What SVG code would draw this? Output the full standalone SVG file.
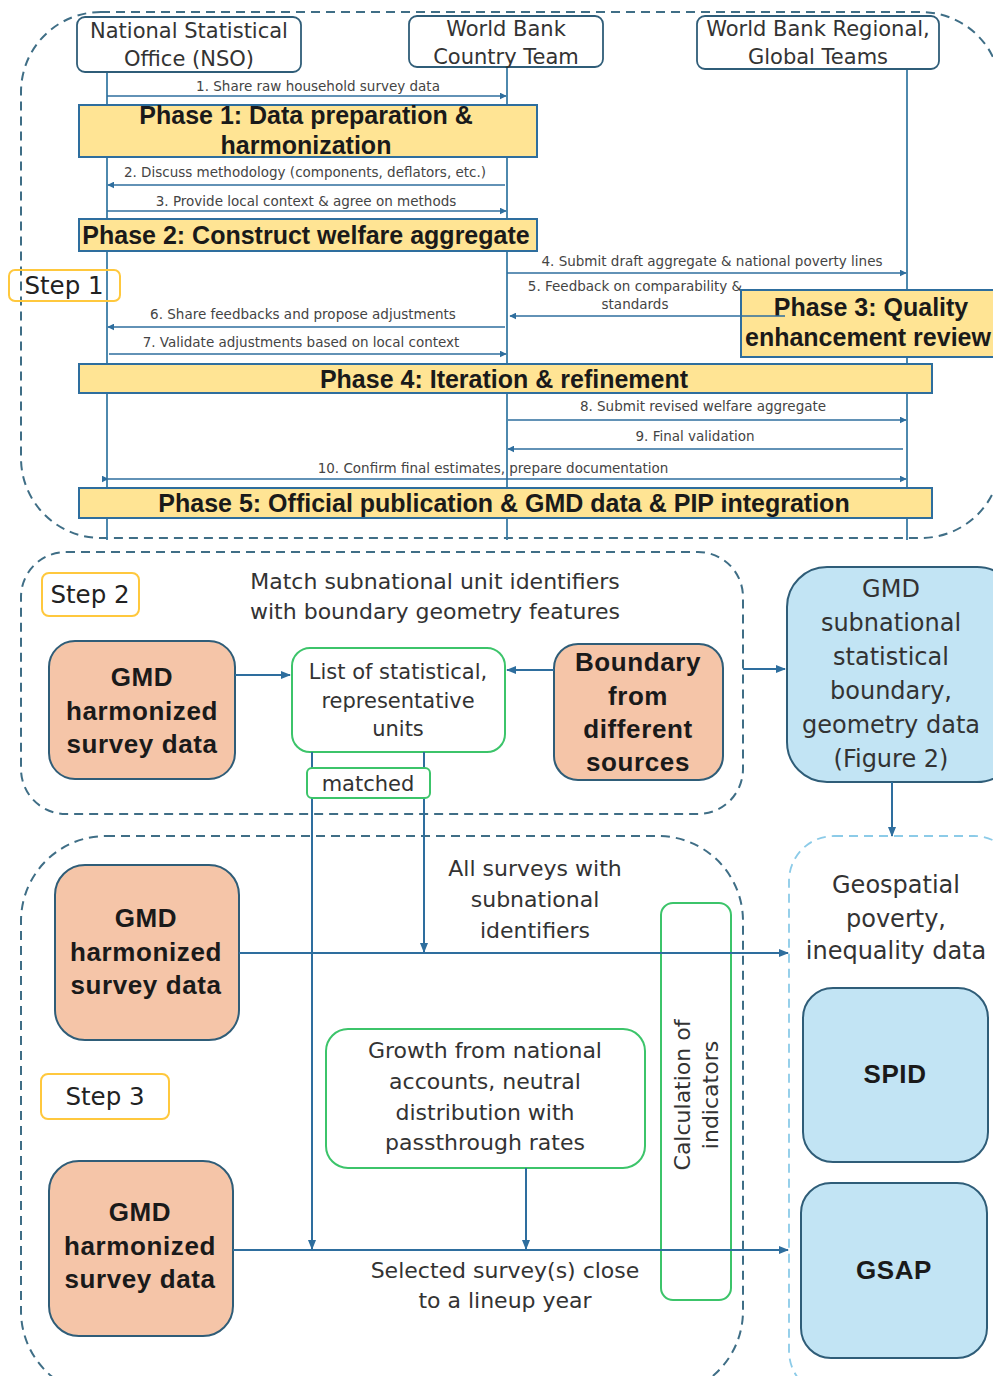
<svg xmlns="http://www.w3.org/2000/svg" width="993" height="1376" viewBox="0 0 993 1376">
<style>
.dash{fill:none;stroke:#3F6E86;stroke-width:2;stroke-dasharray:9 6}
.dashl{fill:none;stroke:#8CCBE8;stroke-width:1.8;stroke-dasharray:9 6}
.actor{fill:#fff;stroke:#2F5D78;stroke-width:1.8}
.phase{fill:#FFE494;stroke:#2E6E9E;stroke-width:2}
.life{stroke:#3A7CA5;stroke-width:1.8;fill:none}
.msg{stroke:#2E6E9E;stroke-width:1.5;fill:none}
.con{stroke:#2E6E9E;stroke-width:2;fill:none}
.step{fill:#fff;stroke:#FFC83D;stroke-width:2}
.salmon{fill:#F5C5A8;stroke:#2F5D78;stroke-width:2}
.blue{fill:#C2E4F4;stroke:#2F5D78;stroke-width:2}
.green{fill:#fff;stroke:#3CC46A;stroke-width:2}
.greenn{fill:none;stroke:#3CC46A;stroke-width:2}
text{font-family:"DejaVu Sans","Liberation Sans",Arial,sans-serif;fill:#333;text-anchor:middle}
.at{font-size:21px}
.pt{font-family:"Liberation Sans",Arial,sans-serif;font-size:25px;font-weight:bold;fill:#1a1a1a}
.mt{font-size:13.5px;fill:#444}
.st{font-size:24.5px;fill:#222}
.bt{font-family:"Liberation Sans",Arial,sans-serif;font-size:26px;font-weight:bold;fill:#1a1a1a;letter-spacing:0.6px}
.nt{font-size:22px;fill:#333}
.ntb{font-size:24px;fill:#333}
.lt{font-size:21px;fill:#333}
</style>
<defs>
<marker id="ah" viewBox="0 0 10 10" refX="9" refY="5" markerWidth="7" markerHeight="7" markerUnits="userSpaceOnUse" orient="auto"><path d="M0,0L10,5L0,10z" fill="#2E6E9E"/></marker>
<marker id="ahb" viewBox="0 0 10 10" refX="9" refY="5" markerWidth="10" markerHeight="10" markerUnits="userSpaceOnUse" orient="auto"><path d="M0,1L10,5L0,9z" fill="#2E6E9E"/></marker>
</defs>

<!-- containers -->
<g id="step1-container"><rect class="dash" x="21" y="12" width="980" height="526" rx="80"/></g>
<g id="step2-container"><rect class="dash" x="21" y="552" width="722" height="262" rx="45"/></g>
<g id="step3-container"><rect class="dash" x="21" y="836" width="722" height="560" rx="85"/></g>
<g id="output-container"><rect class="dashl" x="789" y="836" width="230" height="560" rx="45"/></g>

<!-- lifelines -->
<g id="lifelines">
<line class="life" x1="107" y1="72" x2="107" y2="540"/>
<line class="life" x1="507" y1="67" x2="507" y2="540"/>
<line class="life" x1="907" y1="69" x2="907" y2="540"/>
</g>

<!-- actors -->
<g id="actor-nso"><rect class="actor" x="77" y="17" width="224" height="55" rx="8"/><text class="at" x="189" y="38">National Statistical</text><text class="at" x="189" y="66">Office (NSO)</text></g>
<g id="actor-country"><rect class="actor" x="409" y="16" width="194" height="51" rx="8"/><text class="at" x="506" y="36">World Bank</text><text class="at" x="506" y="64">Country Team</text></g>
<g id="actor-global"><rect class="actor" x="697" y="16" width="242" height="53" rx="8"/><text class="at" x="818" y="36">World Bank Regional,</text><text class="at" x="818" y="64">Global Teams</text></g>

<!-- messages -->
<g id="messages">
<text class="mt" x="318" y="91">1. Share raw household survey data</text>
<line class="msg" x1="107" y1="96" x2="506" y2="96" marker-end="url(#ah)"/>
<text class="mt" x="305" y="177">2. Discuss methodology (components, deflators, etc.)</text>
<line class="msg" x1="505" y1="185" x2="108" y2="185" marker-end="url(#ah)"/>
<text class="mt" x="306" y="206">3. Provide local context &amp; agree on methods</text>
<line class="msg" x1="107" y1="211" x2="506" y2="211" marker-end="url(#ah)"/>
<text class="mt" x="712" y="266">4. Submit draft aggregate &amp; national poverty lines</text>
<line class="msg" x1="507" y1="273" x2="906" y2="273" marker-end="url(#ah)"/>
<text class="mt" x="635" y="291">5. Feedback on comparability &amp;</text>
<text class="mt" x="635" y="309">standards</text>
<line class="msg" x1="785" y1="316" x2="510" y2="316" marker-end="url(#ah)"/>
<text class="mt" x="303" y="319">6. Share feedbacks and propose adjustments</text>
<line class="msg" x1="505" y1="327" x2="108" y2="327" marker-end="url(#ah)"/>
<text class="mt" x="301" y="347">7. Validate adjustments based on local context</text>
<line class="msg" x1="109" y1="354" x2="506" y2="354" marker-end="url(#ah)"/>
<text class="mt" x="703" y="411">8. Submit revised welfare aggregate</text>
<line class="msg" x1="508" y1="420" x2="906" y2="420" marker-end="url(#ah)"/>
<text class="mt" x="695" y="441">9. Final validation</text>
<line class="msg" x1="903" y1="449" x2="508" y2="449" marker-end="url(#ah)"/>
<text class="mt" x="493" y="473">10. Confirm final estimates, prepare documentation</text>
<line class="msg" x1="108" y1="479" x2="906" y2="479" marker-start="url(#ah)" marker-end="url(#ah)"/>
</g>

<!-- phases -->
<g id="phase1"><rect class="phase" x="79" y="105" width="458" height="52"/><text class="pt" x="306" y="124">Phase 1: Data preparation &amp;</text><text class="pt" x="306" y="154">harmonization</text></g>
<g id="phase2"><rect class="phase" x="79" y="219" width="458" height="32"/><text class="pt" x="306" y="244">Phase 2: Construct welfare aggregate</text></g>
<g id="phase3"><rect class="phase" x="741" y="290" width="270" height="67"/><text class="pt" x="871" y="316">Phase 3: Quality</text><text class="pt" x="745" y="346" style="text-anchor:start">enhancement review</text></g>
<line class="msg" x1="741" y1="316" x2="785" y2="316"/>
<g id="phase4"><rect class="phase" x="79" y="364" width="853" height="29"/><text class="pt" x="504" y="388">Phase 4: Iteration &amp; refinement</text></g>
<g id="phase5"><rect class="phase" x="79" y="488" width="853" height="30"/><text class="pt" x="504" y="512">Phase 5: Official publication &amp; GMD data &amp; PIP integration</text></g>

<g id="step1-label"><rect class="step" x="9" y="270" width="111" height="31" rx="6" style="fill:none"/><text class="st" x="64" y="294">Step 1</text></g>

<!-- Step 2 -->
<g id="step2-label"><rect class="step" x="42" y="573" width="97" height="43" rx="7"/><text class="st" x="90" y="603">Step 2</text></g>
<g id="step2-title"><text class="nt" x="435" y="589">Match subnational unit identifiers</text><text class="nt" x="435" y="619">with boundary geometry features</text></g>
<g id="gmd-a"><rect class="salmon" x="49" y="641" width="186" height="138" rx="26"/><text class="bt" x="142" y="686">GMD</text><text class="bt" x="142" y="720">harmonized</text><text class="bt" x="142" y="753">survey data</text></g>
<g id="list-units"><rect class="green" x="292" y="648" width="213" height="104" rx="18"/><text class="lt" x="398" y="679">List of statistical,</text><text class="lt" x="398" y="708">representative</text><text class="lt" x="398" y="736">units</text></g>
<g id="boundary"><rect class="salmon" x="554" y="644" width="169" height="136" rx="24"/><text class="bt" x="638" y="671">Boundary</text><text class="bt" x="638" y="705">from</text><text class="bt" x="638" y="738">different</text><text class="bt" x="638" y="771">sources</text></g>
<g id="gmd-subnational"><rect class="blue" x="787" y="567" width="230" height="215" rx="40"/><text class="ntb" x="891" y="597">GMD</text><text class="ntb" x="891" y="631">subnational</text><text class="ntb" x="891" y="665">statistical</text><text class="ntb" x="891" y="699">boundary,</text><text class="ntb" x="891" y="733">geometry data</text><text class="ntb" x="891" y="767">(Figure 2)</text></g>

<!-- Step 3 -->
<g id="gmd-b"><rect class="salmon" x="55" y="865" width="184" height="175" rx="30"/><text class="bt" x="146" y="927">GMD</text><text class="bt" x="146" y="961">harmonized</text><text class="bt" x="146" y="994">survey data</text></g>
<g id="step3-label"><rect class="step" x="41" y="1074" width="128" height="45" rx="7"/><text class="st" x="105" y="1105">Step 3</text></g>
<g id="gmd-c"><rect class="salmon" x="49" y="1161" width="184" height="175" rx="30"/><text class="bt" x="140" y="1221">GMD</text><text class="bt" x="140" y="1255">harmonized</text><text class="bt" x="140" y="1288">survey data</text></g>
<g id="all-surveys-label"><text class="nt" x="535" y="876">All surveys with</text><text class="nt" x="535" y="907">subnational</text><text class="nt" x="535" y="938">identifiers</text></g>
<g id="growth"><rect class="green" x="326" y="1029" width="319" height="139" rx="22"/><text class="nt" x="485" y="1058">Growth from national</text><text class="nt" x="485" y="1089">accounts, neutral</text><text class="nt" x="485" y="1120">distribution with</text><text class="nt" x="485" y="1150">passthrough rates</text></g>
<g id="selected-label"><text class="nt" x="505" y="1278">Selected survey(s) close</text><text class="nt" x="505" y="1308">to a lineup year</text></g>
<g id="calculation"><rect class="greenn" x="661" y="903" width="70" height="397" rx="12"/><text class="nt" transform="translate(690,1095) rotate(-90)">Calculation of</text><text class="nt" transform="translate(718,1095) rotate(-90)">indicators</text></g>

<g id="geo-label"><text class="ntb" x="896" y="893">Geospatial</text><text class="ntb" x="896" y="927">poverty,</text><text class="ntb" x="896" y="959">inequality data</text></g>
<g id="spid"><rect class="blue" x="803" y="988" width="185" height="174" rx="30"/><text class="bt" x="895" y="1083">SPID</text></g>
<g id="gsap"><rect class="blue" x="801" y="1183" width="186" height="175" rx="30"/><text class="bt" x="894" y="1279">GSAP</text></g>

<!-- connectors -->
<g id="connectors">
<line class="con" x1="235" y1="675" x2="290" y2="675" marker-end="url(#ahb)"/>
<line class="con" x1="554" y1="670" x2="507" y2="670" marker-end="url(#ahb)"/>
<line class="con" x1="743" y1="669" x2="785" y2="669" marker-end="url(#ahb)"/>
<line class="con" x1="892" y1="782" x2="892" y2="836" marker-end="url(#ahb)"/>
<line class="con" x1="312" y1="752" x2="312" y2="768"/>
<line class="con" x1="424" y1="752" x2="424" y2="768"/>
<line class="con" x1="312" y1="798" x2="312" y2="1249" marker-end="url(#ahb)"/>
<line class="con" x1="424" y1="798" x2="424" y2="952" marker-end="url(#ahb)"/>
<line class="con" x1="239" y1="953" x2="788" y2="953" marker-end="url(#ahb)"/>
<line class="con" x1="526" y1="1168" x2="526" y2="1249" marker-end="url(#ahb)"/>
<line class="con" x1="233" y1="1250" x2="788" y2="1250" marker-end="url(#ahb)"/>
</g>
<g id="matched"><rect class="green" x="307" y="768" width="123" height="30" rx="5"/><text class="lt" x="368" y="791">matched</text></g>
</svg>
